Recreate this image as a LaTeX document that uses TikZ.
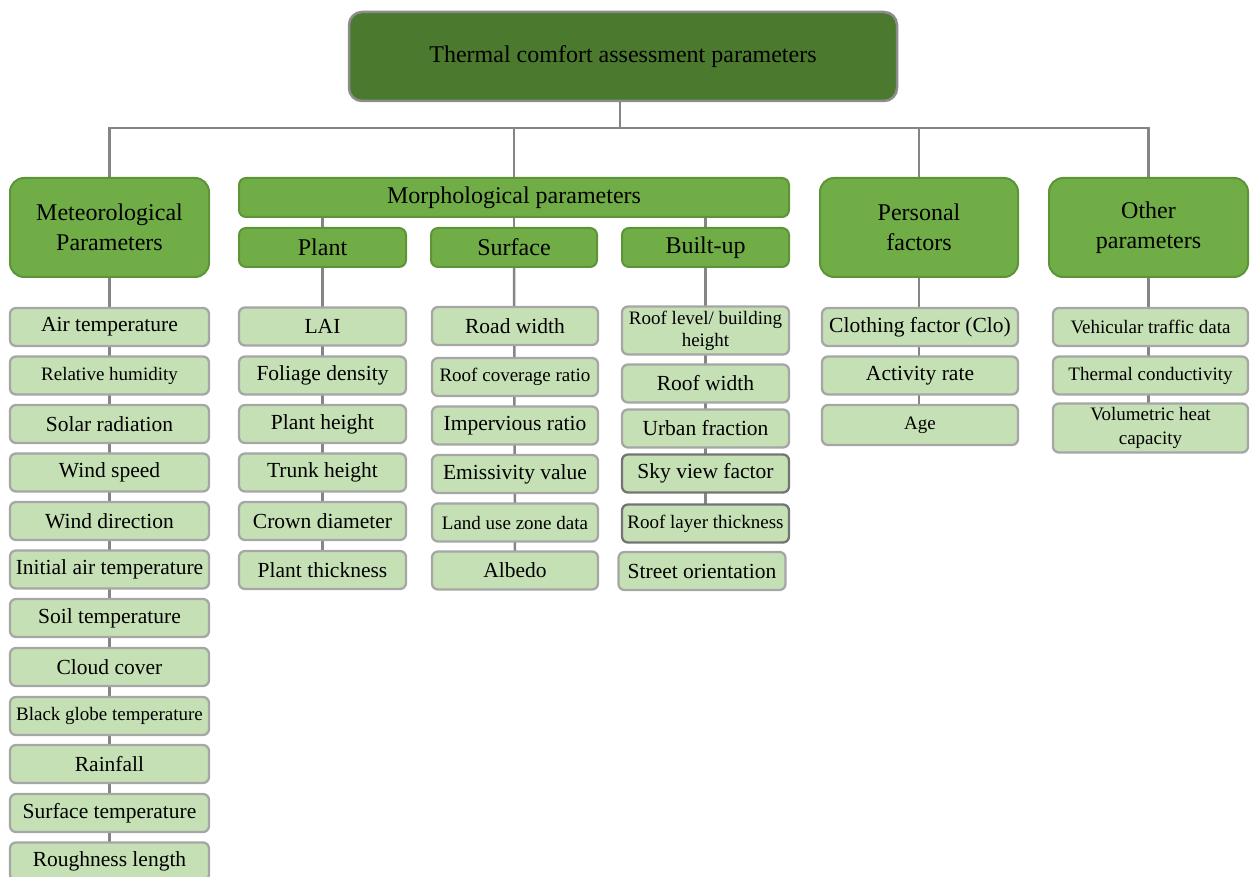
\documentclass[tikz,border=0pt]{standalone}
\usepackage{fontspec}
\setmainfont{Liberation Serif}
\usetikzlibrary{backgrounds}
\definecolor{topgreen}{HTML}{4B7A2F}
\definecolor{catgreen}{HTML}{70AD47}
\definecolor{catborder}{HTML}{5E9438}
\definecolor{leafgreen}{HTML}{C5E0B4}
\definecolor{boxgray}{HTML}{8C8C8C}
\definecolor{leafgray}{HTML}{A6A6A6}
\definecolor{darkgray}{HTML}{747474}
\definecolor{linegray}{HTML}{858585}
\tikzset{
  topbox/.style={draw=boxgray, line width=2.5pt, fill=topgreen, rounded corners=13pt,
    minimum width=548pt, minimum height=89pt, font=\fontsize{24}{28}\selectfont, inner sep=0pt},
  catbox/.style={draw=catborder, line width=2pt, fill=catgreen, rounded corners=14pt,
    minimum height=99pt, align=center, font=\fontsize{24}{30}\selectfont, inner sep=0pt},
  subbox/.style={draw=catborder, line width=2pt, fill=catgreen, rounded corners=7pt,
    minimum height=39pt, font=\fontsize{24}{28}\selectfont, inner sep=0pt},
  leaf/.style={draw=leafgray, line width=2.3pt, fill=leafgreen, rounded corners=6pt,
    minimum height=38pt, align=center, font=\fontsize{21.5}{24}\selectfont, inner sep=0pt},
  small/.style={font=\fontsize{19}{22}\selectfont},
  dark/.style={draw=darkgray},
  conn/.style={draw=linegray, line width=2.5pt},
}
\begin{document}
\begin{tikzpicture}[x=1pt,y=-1pt]
\useasboundingbox (0,0) rectangle (1253,877);
% top
\node[topbox] (top) at (623,56.5) {Thermal comfort assessment parameters};
% categories
\node[catbox, minimum width=199pt] (met) at (109.5,227.5) {Meteorological\\Parameters};
\node[subbox, minimum width=550pt] (morph) at (514,197.5) {Morphological parameters};
\node[catbox, minimum width=198pt] (pers) at (919,227.5) {Personal\\factors};
\node[catbox, minimum width=199pt] (oth) at (1148.5,227.5) {Other\\parameters};
\node[subbox, minimum width=167pt] (plant) at (322.5,247.5) {Plant};
\node[subbox, minimum width=166pt] (surf) at (514,247.5) {Surface};
\node[subbox, minimum width=167pt] (built) at (705.5,247.5) {Built-up};
\coordinate (bus) at (620,128);
% meteorological leaves
\begin{scope}[every node/.style={leaf, minimum width=199pt}]
\node (m1) at (109.5,327) {Air temperature};
\node[small] (m2) at (109.5,375.5) {Relative humidity};
\node (m3) at (109.5,424) {Solar radiation};
\node (m4) at (109.5,472.5) {Wind speed};
\node (m5) at (109.5,521) {Wind direction};
\node (m6) at (109.5,569.5) {Initial air temperature};
\node (m7) at (109.5,618) {Soil temperature};
\node (m8) at (109.5,667) {Cloud cover};
\node[small] (m9) at (109.5,716) {Black globe temperature};
\node (m10) at (109.5,764) {Rainfall};
\node (m11) at (109.5,813) {Surface temperature};
\node (m12) at (109.5,861.5) {Roughness length};
\end{scope}
% plant leaves
\begin{scope}[every node/.style={leaf, minimum width=167pt}]
\node (p1) at (322.5,326.5) {LAI};
\node (p2) at (322.5,375.5) {Foliage density};
\node (p3) at (322.5,424) {Plant height};
\node (p4) at (322.5,472.5) {Trunk height};
\node (p5) at (322.5,521) {Crown diameter};
\node (p6) at (322.5,570) {Plant thickness};
\end{scope}
% surface leaves
\begin{scope}[every node/.style={leaf, minimum width=166pt}]
\node (s1) at (515,326) {Road width};
\node[small] (s2) at (515,377) {Roof coverage ratio};
\node (s3) at (515,425.5) {Impervious ratio};
\node (s4) at (515,474) {Emissivity value};
\node[small] (s5) at (515,522.5) {Land use zone data};
\node (s6) at (515,570.5) {Albedo};
\end{scope}
% built-up leaves
\begin{scope}[every node/.style={leaf, minimum width=167pt}]
\node[small, minimum height=48pt] (b1) at (705.5,330.5) {Roof level/ building\\height};
\node (b2) at (705.5,383.5) {Roof width};
\node (b3) at (705.5,428.5) {Urban fraction};
\node[dark] (b4) at (705.5,473.5) {Sky view factor};
\node[dark, small] (b5) at (705.5,523.5) {Roof layer thickness};
\node (b6) at (702,571) {Street orientation};
\end{scope}
% personal leaves
\begin{scope}[every node/.style={leaf, minimum width=196pt}]
\node (q1) at (920,327) {Clothing factor (Clo)};
\node (q2) at (920,375.5) {Activity rate};
\node[small, minimum height=40pt] (q3) at (920,425) {Age};
\end{scope}
% other leaves
\begin{scope}[every node/.style={leaf, minimum width=195pt}]
\node[small] (o1) at (1150.5,327) {Vehicular traffic data};
\node[small] (o2) at (1150.5,375.5) {Thermal conductivity};
\node[small, minimum height=49pt, font=\fontsize{19}{24}\selectfont] (o3) at (1150.5,428) {Volumetric heat\\capacity};
\end{scope}
% connectors
\begin{scope}[on background layer]
\draw[conn] (bus |- top.south) -- (bus);
\draw[conn] (met.north) |- (bus);
\draw[conn] (morph.north) |- (bus);
\draw[conn] (pers.north) |- (bus);
\draw[conn] (oth.north) |- (bus);
\draw[conn] (plant.north) -- (plant.north |- morph.south);
\draw[conn] (surf.north) -- (surf.north |- morph.south);
\draw[conn] (built.north) -- (built.north |- morph.south);
\draw[conn] (met.south) -- (m12.center);
\draw[conn] (plant.south) -- (p6.center);
\draw[conn] (surf.south) -- (s6.center);
\draw[conn] (built.south) -- (b5.center);
\draw[conn] (pers.south) -- (pers.south |- q3.center);
\draw[conn] (oth.south) -- (oth.south |- o3.center);
\end{scope}
\end{tikzpicture}
\end{document}
